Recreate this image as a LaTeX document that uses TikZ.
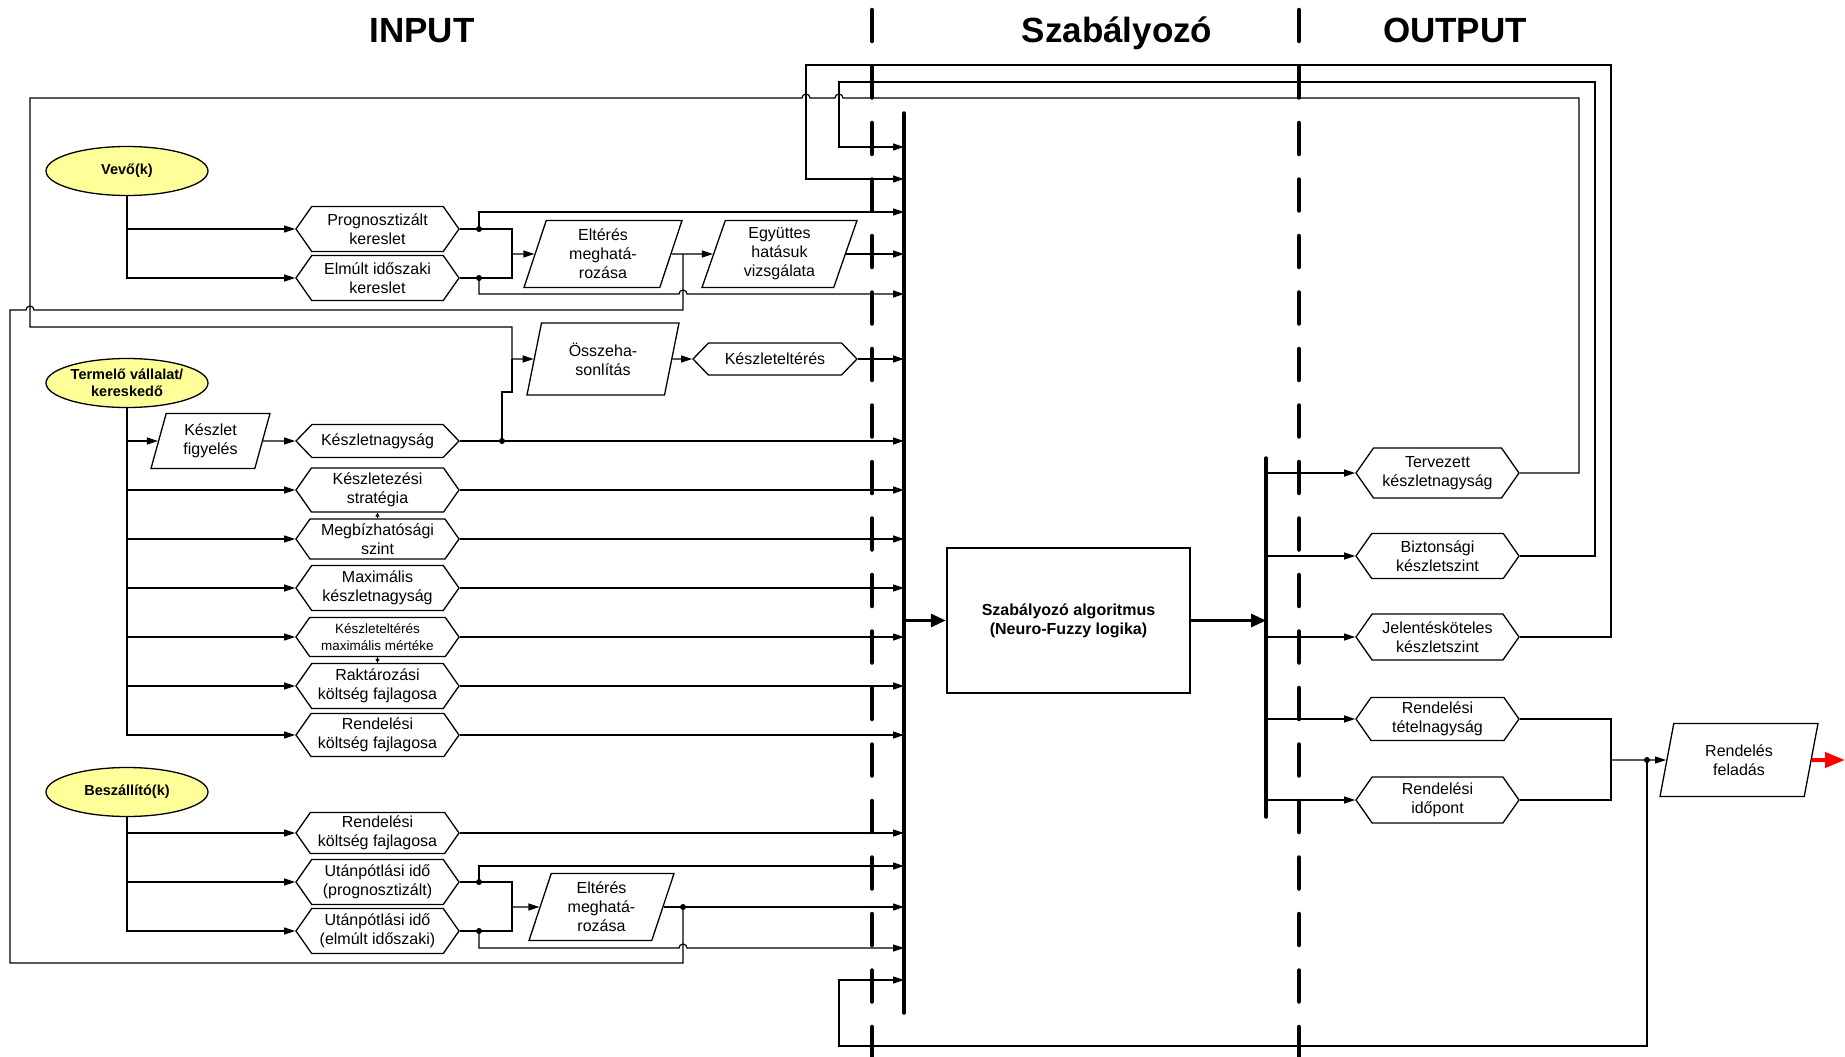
\documentclass[tikz,border=0pt]{standalone}
\usepackage{fontspec}
\setmainfont{Liberation Sans}
\usepackage{xcolor}
\usepackage{tikz}
\usetikzlibrary{arrows.meta,shapes.geometric,shapes.symbols}
\definecolor{srcyellow}{HTML}{FFFF99}
\definecolor{outred}{HTML}{FF0000}

\tikzset{
  line/.style={line width=1.2pt},
  arr/.style={line width=1.2pt,-{Triangle[length=11pt,width=7pt]}},
  minarr/.style={line width=1pt,-{Triangle[length=4pt,width=4pt]}},
  fatarr/.style={line width=3pt,-{Triangle[length=15pt,width=13pt]}},
  redarr/.style={outred,line width=4pt,-{Triangle[length=20pt,width=15pt]}},
  hexa/.style={signal,signal to=east and west,signal pointer angle=110,draw,line width=1.3pt,
    minimum width=163pt,minimum height=45pt,inner sep=0pt,align=center,
    font=\fontsize{16}{18.7}\selectfont},
  hexa1/.style={hexa,minimum height=33pt,signal pointer angle=92},
  para/.style={trapezium,trapezium left angle=66,trapezium right angle=114,trapezium stretches body,
    draw,line width=1.3pt,minimum width=158pt,minimum height=67pt,inner sep=0pt,align=center,
    font=\fontsize{16}{19}\selectfont},
  source/.style={ellipse,draw,fill=srcyellow,line width=1.3pt,minimum width=162pt,minimum height=49pt,
    inner sep=0pt,align=center,font=\bfseries\fontsize{14.5}{16.7}\selectfont},
  title/.style={font=\bfseries\fontsize{35}{40}\selectfont,anchor=base},
  sepline/.style={line width=4.5pt,line cap=round,dash pattern=on 31pt off 25.5pt},
  bus/.style={line width=3.5pt,line cap=round},
  dot/.style={circle,fill,inner sep=0pt,minimum size=6pt},
}

\begin{document}
\begin{tikzpicture}[x=1pt,y=-1pt]
  \useasboundingbox (0,0) rectangle (1845,1057);

  % titles
  \node[title] (tin) at (422,43) {INPUT};
  \node[title] (tszab) at (1117,43) {Szabályozó};
  \node[title] (tout) at (1455,43) {OUTPUT};

  % borders of the three parts
  \draw[sepline] (872,10) -- (872,1062);
  \draw[sepline] (1299,10) -- (1299,1062);

  % sources
  \node[source] (vevo) at (127,171) {Vevő(k)};
  \node[source] (termelo) at (127,383) {Termelő vállalat/\\kereskedő};
  \node[source] (beszall) at (127,792) {Beszállító(k)};

  % inputs
  \node[hexa] (progn) at (377.5,229) {Prognosztizált\\kereslet};
  \node[hexa] (elmult) at (377.5,278) {Elmúlt időszaki\\kereslet};
  \node[para] (elt1) at (603,254) {Eltérés\\meghatá-\\rozása};
  \node[para,minimum width=155pt] (egyutt) at (779.5,254) {Együttes\\hatásuk\\vizsgálata};
  \node[para,minimum width=152pt,minimum height=72pt] (ossz) at (603,359) {Összeha-\\sonlítás};
  \node[hexa1,minimum width=164pt,minimum height=32pt] (keszelt) at (775,359) {Készleteltérés};
  \node[para,minimum width=119pt,minimum height=55pt] (figy) at (210.5,441) {Készlet\\figyelés};
  \node[hexa1] (kesznagy) at (377.5,441) {Készletnagyság};
  \node[hexa,minimum height=44pt] (strat) at (377.5,490) {Készletezési\\stratégia};
  \node[hexa,minimum height=40pt] (megb) at (377.5,539) {Megbízhatósági\\szint};
  \node[hexa] (maxkesz) at (377.5,588) {Maximális\\készletnagyság};
  \node[hexa,minimum height=39pt,font=\fontsize{13.5}{16.5}\selectfont] (maxelt) at (377.5,637) {Készleteltérés\\maximális mértéke};
  \node[hexa] (rakt) at (377.5,686) {Raktározási\\költség fajlagosa};
  \node[hexa,minimum height=43pt] (rendk1) at (377.5,735) {Rendelési\\költség fajlagosa};
  \node[hexa,minimum height=41pt] (rendk2) at (377.5,833) {Rendelési\\költség fajlagosa};
  \node[hexa] (utp1) at (377.5,882) {Utánpótlási idő\\(prognosztizált)};
  \node[hexa] (utp2) at (377.5,931) {Utánpótlási idő\\(elmúlt időszaki)};
  \node[para,minimum width=145pt] (elt2) at (601.5,907) {Eltérés\\meghatá-\\rozása};

  % controller
  \node[draw,line width=2.5pt,minimum width=243pt,minimum height=145pt,align=center,
    font=\bfseries\fontsize{16}{19}\selectfont] (algo) at (1068.5,620.5) {Szabályozó algoritmus\\(Neuro-Fuzzy logika)};

  % outputs
  \node[hexa,minimum height=50pt] (terv) at (1437.5,473) {Tervezett\\készletnagyság};
  \node[hexa] (bizt) at (1437.5,556) {Biztonsági\\készletszint};
  \node[hexa,minimum height=46pt] (jelent) at (1437.5,637) {Jelentésköteles\\készletszint};
  \node[hexa,minimum height=43pt] (tetel) at (1437.5,719) {Rendelési\\tételnagyság};
  \node[hexa,minimum height=46pt] (idopont) at (1437.5,800) {Rendelési\\időpont};
  \node[para,minimum height=73pt] (feladas) at (1739,760) {Rendelés\\feladás};

  % buses
  \coordinate (inbus) at (904,0);
  \coordinate (outbus) at (1266,0);
  \draw[bus] (904,113) -- (904,1013);
  \draw[bus] (1266,458) -- (1266,817);

  % junctions
  \node[dot] (dp1) at (479,229) {};
  \node[dot] (dp2) at (479,278) {};
  \node[dot] (dp3) at (502,441) {};
  \node[dot] (dp4) at (479,882) {};
  \node[dot] (dp5) at (479,931) {};
  \node[dot] (dp6) at (683,907) {};
  \node[dot] (dp7) at (1647,760) {};
  \coordinate (j1) at (512,254);
  \coordinate (j2) at (512,359);
  \coordinate (j3) at (512,907);
  \coordinate (j4) at (1611,760);
  \coordinate (up1) at (479,212);
  \coordinate (dn1) at (479,294);
  \coordinate (up2) at (479,866);
  \coordinate (dn2) at (479,948);
  \coordinate (fb2) at (839,147);
  \coordinate (fb3) at (806,179);
  \coordinate (fb4) at (839,980);

  % Vevő(k)
  \draw[arr] (vevo.south) |- (progn.west);
  \draw[arr] (vevo.south) |- (elmult.west);
  \draw[line] (progn.east) -| (j1);
  \draw[line] (elmult.east) -| (j1);
  \draw[arr] (j1) -- (elt1.west);
  \draw[arr] (dp1.center) -- (up1) -- (up1 -| inbus);
  \draw[arr] (dp2.center) -- (dn1) -- (679,294) arc[start angle=180,end angle=360,radius=4] -- (dn1 -| inbus);
  \draw[arr] (elt1.east) -- (egyutt.west);
  \draw[arr] (egyutt.east) -- (egyutt.east -| inbus);

  % Termelő vállalat
  \draw[arr] (termelo.south) |- (figy.west);
  \draw[arr] (figy.east) -- (kesznagy.west);
  \draw[arr] (kesznagy.east) -- (kesznagy.east -| inbus);
  \draw[line] (dp3.center) -- (502,392) -- (512,392) -- (j2);
  \draw[arr] (j2) -- (ossz.west);
  \draw[arr] (ossz.east) -- (keszelt.west);
  \draw[arr] (keszelt.east) -- (keszelt.east -| inbus);
  \draw[arr] (termelo.south) |- (strat.west);
  \draw[arr] (termelo.south) |- (megb.west);
  \draw[arr] (termelo.south) |- (maxkesz.west);
  \draw[arr] (termelo.south) |- (maxelt.west);
  \draw[arr] (termelo.south) |- (rakt.west);
  \draw[arr] (termelo.south) |- (rendk1.west);
  \draw[arr] (strat.east) -- (strat.east -| inbus);
  \draw[arr] (megb.east) -- (megb.east -| inbus);
  \draw[arr] (maxkesz.east) -- (maxkesz.east -| inbus);
  \draw[arr] (maxelt.east) -- (maxelt.east -| inbus);
  \draw[arr] (rakt.east) -- (rakt.east -| inbus);
  \draw[arr] (rendk1.east) -- (rendk1.east -| inbus);
  \draw[minarr] (megb.north) -- (strat.south);
  \draw[minarr] (maxelt.south) -- (rakt.north);

  % Beszállító(k)
  \draw[arr] (beszall.south) |- (rendk2.west);
  \draw[arr] (beszall.south) |- (utp1.west);
  \draw[arr] (beszall.south) |- (utp2.west);
  \draw[arr] (rendk2.east) -- (rendk2.east -| inbus);
  \draw[line] (utp1.east) -| (j3);
  \draw[line] (utp2.east) -| (j3);
  \draw[arr] (j3) -- (elt2.west);
  \draw[arr] (dp4.center) -- (up2) -- (up2 -| inbus);
  \draw[arr] (dp5.center) -- (dn2) -- (679,948) arc[start angle=180,end angle=360,radius=4] -- (dn2 -| inbus);
  \draw[arr] (elt2.east) -- (elt2.east -| inbus);
  \draw[line] (dp6.center) -- (683,963) -- (10,963) -- (10,310) -- (26,310)
    arc[start angle=180,end angle=360,radius=4] -- (683,310) -- (683,254);

  % controller
  \draw[fatarr] (algo.west -| inbus) -- (algo.west);
  \draw[fatarr] (algo.east) -- (algo.east -| outbus);
  \draw[arr] (terv.west -| outbus) -- (terv.west);
  \draw[arr] (bizt.west -| outbus) -- (bizt.west);
  \draw[arr] (jelent.west -| outbus) -- (jelent.west);
  \draw[arr] (tetel.west -| outbus) -- (tetel.west);
  \draw[arr] (idopont.west -| outbus) -- (idopont.west);

  % feedback
  \draw[line] (terv.east) -| (1579,98) -- (843,98) arc[start angle=0,end angle=-180,radius=4]
    -- (810,98) arc[start angle=0,end angle=-180,radius=4] -- (30,98) -- (30,327) -| (j2);
  \draw[arr] (bizt.east) -| (1595,82) -| (fb2) -- (fb2 -| inbus);
  \draw[arr] (jelent.east) -| (1611,65) -| (fb3) -- (fb3 -| inbus);
  \draw[line] (tetel.east) -| (j4);
  \draw[line] (idopont.east) -| (j4);
  \draw[arr] (j4) -- (feladas.west);
  \draw[arr] (dp7.center) -- (1647,1046) -| (fb4) -- (fb4 -| inbus);
  \draw[redarr] (feladas.east) -- (1845,760);
\end{tikzpicture}
\end{document}
